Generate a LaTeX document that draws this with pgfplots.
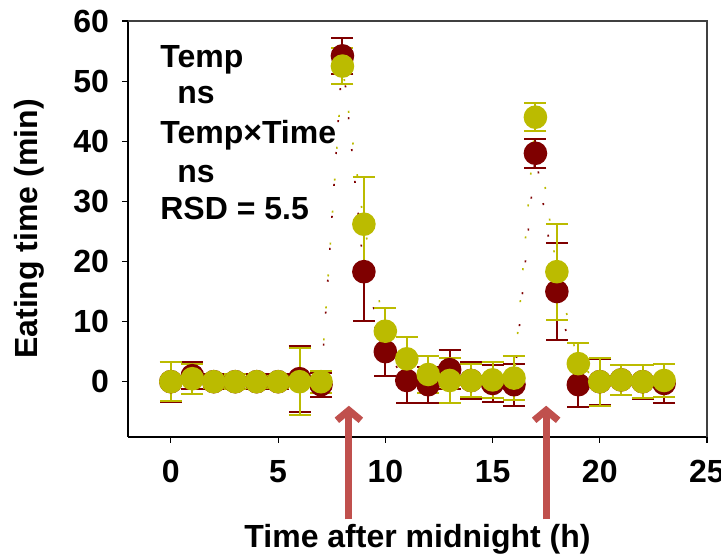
\documentclass[border=0pt]{standalone}
\usepackage{fontspec}
\setmainfont{Liberation Sans}
\usepackage{pgfplots}
\usepackage{pgfplotstable}
\pgfplotsset{compat=1.18}
\usetikzlibrary{arrows.meta}
\definecolor{darkred}{HTML}{7F0000}
\definecolor{olive}{HTML}{BBBB00}
\definecolor{arrowred}{HTML}{C0504D}

% hour, mean, sd
\pgfplotstableread{
x y e
0 0 3.3
1 1 2.2
2 0 1.2
3 0 1.2
4 0 1.2
5 0 1.2
6 0.5 5.5
7 -0.5 2
8 54.2 3
9 18.3 8.2
10 5.0 4
11 0.2 3.7
12 -0.5 3
13 2.0 3.2
14 0.2 3
15 -0.3 3
16 -0.5 3.5
17 38.0 2.4
18 15.0 8
19 -0.5 3.7
20 0 3.8
21 0.3 2.5
22 0 2.8
23 -0.3 3.3
}\reddata

\pgfplotstableread{
x y e
0 0 3.2
1 0.5 2.5
2 0 1.0
3 0 1.2
4 0 1.0
5 0 1.0
6 0 5.6
7 0 1.8
8 52.5 3
9 26.2 7.9
10 8.4 3.8
11 3.8 3.7
12 1.2 3
13 0.2 3.7
14 0.2 2.8
15 0.3 3
16 0.6 3.6
17 44.0 2.3
18 18.3 8
19 3.0 3.5
20 0 4
21 0.3 2.5
22 0 2.7
23 0.2 2.8
}\yeldata

\begin{document}
\begin{tikzpicture}
\begin{axis}[
    scale only axis,
    width=289.5pt, height=208pt,
    xmin=-2, xmax=25, ymin=-9.2, ymax=60,
    xtick={0,5,...,25}, ytick={0,10,...,60},
    axis x line*=bottom, axis y line*=left,
    axis line style={black, line width=0.6pt},
    tick align=outside, major tick length=3pt,
    tick style={black, line width=0.6pt},
    /pgf/number format/assume math mode=true,
    tick label style={font=\fontsize{16}{18}\selectfont\bfseries},
    xticklabel style={yshift=-5pt},
    yticklabel style={xshift=-3pt},
    xlabel={Time after midnight (h)},
    ylabel={Eating time (min)},
    label style={font=\fontsize{16}{18}\selectfont\bfseries},
    xlabel style={at={(axis description cs:0.5,-0.245)}, anchor=center},
    ylabel style={at={(axis description cs:-0.170,0.5)}, anchor=center},
    clip=false,
    error bars/y dir=both,
    error bars/y explicit,
]
\draw[black!75, line width=1pt] (rel axis cs:0,1) -- (rel axis cs:1,1) -- (rel axis cs:1,0);

\addplot[darkred, line width=0.8pt, dash pattern=on 1pt off 15pt,
    mark=*, mark size=5.5pt, mark options={solid, fill=darkred, draw=darkred},
    error bars/error bar style={solid, line width=1pt, darkred},
    error bars/error mark options={solid, line width=1pt, mark size=5.5pt, darkred, rotate=90}]
    table[x=x, y=y, y error=e] {\reddata};
\addplot[olive, line width=0.8pt, dash pattern=on 1pt off 15pt,
    mark=*, mark size=5.5pt, mark options={solid, fill=olive, draw=olive},
    error bars/error bar style={solid, line width=1pt, olive},
    error bars/error mark options={solid, line width=1pt, mark size=5.5pt, olive, rotate=90}]
    table[x=x, y=y, y error=e] {\yeldata};

\draw[arrowred, line width=3.5pt, -{Straight Barb[length=5pt, width=12pt]}] (axis cs:8.3,-22.9) -- (axis cs:8.3,-4.0);
\draw[arrowred, line width=3.5pt, -{Straight Barb[length=5pt, width=12pt]}] (axis cs:17.5,-22.9) -- (axis cs:17.5,-4.0);

\begin{scope}[every node/.style={anchor=base west, inner sep=0pt, font=\fontsize{16}{18}\selectfont\bfseries}]
\node at (axis cs:-0.51,52.3) {Temp};
\node at (axis cs:0.28,46.2) {ns};
\node at (axis cs:-0.51,39.7) {Temp×Time};
\node at (axis cs:0.28,33.2) {ns};
\node at (axis cs:-0.51,26.9) {RSD = 5.5};
\end{scope}

\coordinate (bbsw) at (rel axis cs:-0.2211,-0.2861);
\coordinate (bbne) at (rel axis cs:1.0242,1.0505);
\end{axis}
\pgfresetboundingbox
\useasboundingbox (bbsw) rectangle (bbne);
\end{tikzpicture}
\end{document}
